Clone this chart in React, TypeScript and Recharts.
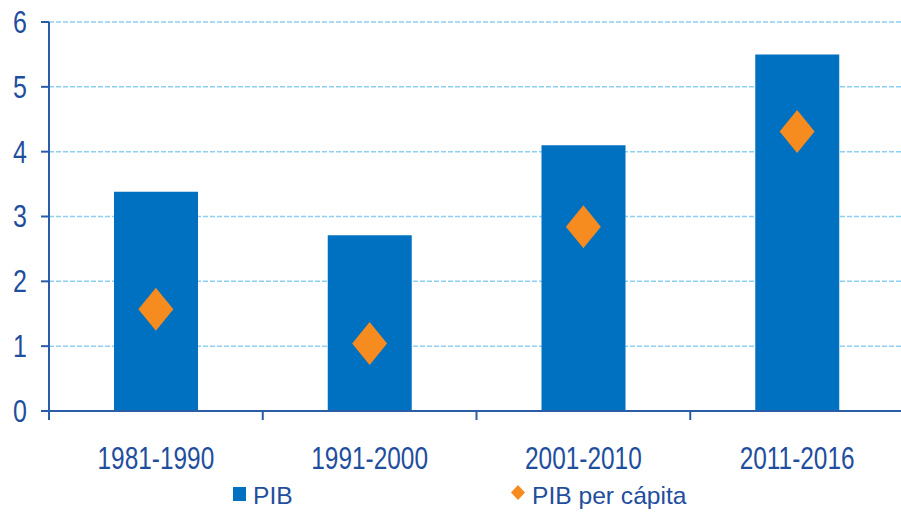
import React from "react";
import {
  ComposedChart,
  Bar,
  Scatter,
  XAxis,
  YAxis,
  CartesianGrid,
  Legend,
} from "recharts";

const periods = ["1981-1990", "1991-2000", "2001-2010", "2011-2016"];
const pib = [3.38, 2.71, 4.1, 5.5];
const pibPerCapita = [1.57, 1.04, 2.84, 4.31];
const yTicks = [0, 1, 2, 3, 4, 5, 6];

const data = periods.map((period, i) => ({
  period,
  pib: pib[i],
  pc: pibPerCapita[i],
}));

const W = 901;
const H = 513;
const LEFT = 49;
const RIGHT = -3;
const BAND = (W - LEFT - RIGHT) / periods.length;

const TEXT = "#1F4E9E";
const AXIS = "#2A5CA8";
const BLUE = "#0070C0";
const ORANGE = "#F68B1F";
const FONT = "'Liberation Sans', Arial, sans-serif";

const XTick = (props: any) => {
  const { x, y, payload } = props;
  const bx = x - BAND / 2;
  return (
    <g>
      <line x1={bx} y1={y} x2={bx} y2={y + 9} stroke={AXIS} strokeWidth={2} />
      <text
        transform={`translate(${x},${y + 58}) scale(0.8,1)`}
        textAnchor="middle"
        fontSize={30.5}
        fontFamily={FONT}
        fill={TEXT}
      >
        {payload.value}
      </text>
    </g>
  );
};

const YTick = (props: any) => {
  const { x, y, payload } = props;
  return (
    <text
      transform={`translate(${x - 14},${y}) scale(0.82,1)`}
      textAnchor="end"
      dy="0.36em"
      fontSize={30.5}
      fontFamily={FONT}
      fill={TEXT}
    >
      {payload.value}
    </text>
  );
};

const Diamond = (props: any) => {
  const { cx, cy } = props;
  const hw = 17.5;
  const hh = 21.5;
  return (
    <polygon
      points={`${cx},${cy - hh} ${cx + hw},${cy} ${cx},${cy + hh} ${cx - hw},${cy}`}
      fill={ORANGE}
    />
  );
};

const legendX = [233, 511];

const LegendContent = (props: any) => {
  const items = props.payload || [];
  return (
    <svg width={W} height={35}>
      {items.map((item: any, i: number) => {
        const x = legendX[i];
        return (
          <g key={i}>
            {i === 0 ? (
              <rect x={x} y={9} width={13} height={14} fill={BLUE} />
            ) : (
              <polygon
                points={`${x + 7},7 ${x + 14},14.5 ${x + 7},22 ${x},14.5`}
                fill={ORANGE}
              />
            )}
            <text
              x={x + (i === 0 ? 20 : 21)}
              y={26}
              fontSize={24.6}
              fontFamily={FONT}
              fill={TEXT}
            >
              {item.value}
            </text>
          </g>
        );
      })}
    </svg>
  );
};

export default function App() {
  return (
    <div style={{ position: "absolute", left: 0, top: 0 }}>
      <ComposedChart
        width={W}
        height={H}
        data={data}
        margin={{ top: 22, right: RIGHT, bottom: 42, left: 0 }}
      >
        <CartesianGrid
          vertical={false}
          stroke="#8DD0F2"
          strokeWidth={1.5}
          strokeDasharray="5 2"
        />
        <XAxis
          dataKey="period"
          height={60}
          tickLine={false}
          tickSize={0}
          tickMargin={0}
          axisLine={{ stroke: AXIS, strokeWidth: 2 }}
          tick={<XTick />}
          interval={0}
        />
        <YAxis
          width={LEFT}
          domain={[0, 6]}
          ticks={yTicks}
          tickSize={8}
          tickMargin={0}
          tickLine={{ stroke: AXIS, strokeWidth: 2 }}
          axisLine={{ stroke: AXIS, strokeWidth: 2 }}
          tick={<YTick />}
          interval={0}
        />
        <Legend
          layout="horizontal"
          verticalAlign="middle"
          align="center"
          wrapperStyle={{ top: 478, left: 0, width: W }}
          content={<LegendContent />}
        />
        <Bar
          dataKey="pib"
          name="PIB"
          fill={BLUE}
          barSize={84}
          isAnimationActive={false}
        />
        <Scatter
          dataKey="pc"
          name="PIB per cápita"
          fill={ORANGE}
          shape={<Diamond />}
          isAnimationActive={false}
        />
      </ComposedChart>
    </div>
  );
}
